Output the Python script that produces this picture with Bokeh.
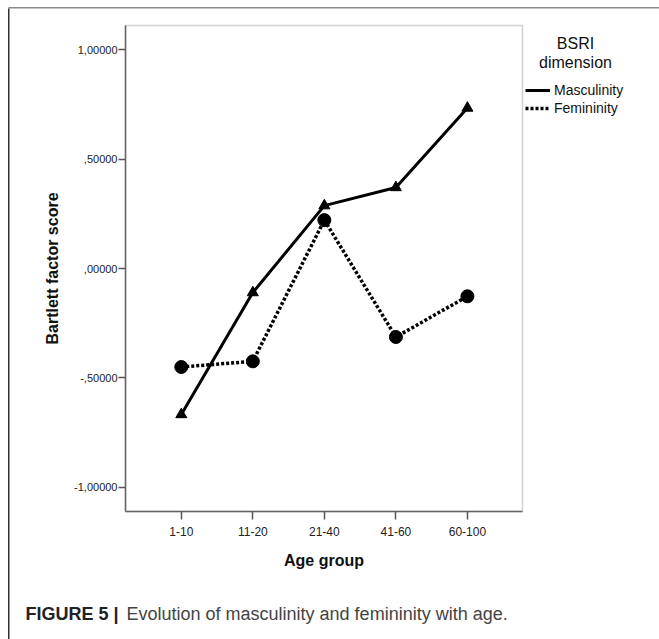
from bokeh.plotting import figure
from bokeh.models import (FixedTicker, Legend, LegendItem, Label, BoxAnnotation,
                          Range1d, LinearAxis)
from bokeh.embed import file_html
from bokeh.resources import INLINE

# ---- data ----
age_groups = ["1-10", "11-20", "21-40", "41-60", "60-100"]
masculinity = [-0.667, -0.11, 0.287, 0.37, 0.733]
femininity = [-0.45, -0.424, 0.221, -0.313, -0.127]
y_ticks = [-1.0, -0.5, 0.0, 0.5, 1.0]
y_tick_labels = ["-1,00000", "-,50000", ",00000", ",50000", "1,00000"]
series_names = ["Masculinity", "Femininity"]
legend_title = ["BSRI", "dimension"]
caption_bold = "FIGURE 5 |"
caption_text = "Evolution of masculinity and femininity with age."

x_pos = list(range(len(age_groups)))

FONT = "Liberation Sans"
W, H = 659, 639
# inner plotting area (pixels from the top-left of the canvas)
FL, FR, FT, FB = 125, 522, 25, 511
X0, X1 = -0.78, 4.77      # data extent of inner area
Y0, Y1 = -1.11, 1.11
sx = (FR - FL) / (X1 - X0)
sy = (FB - FT) / (Y1 - Y0)

p = figure(width=W, height=H, min_border=0,
           x_range=Range1d(X0 - FL / sx, X1 + (W - FR) / sx),
           y_range=Range1d(Y0 - (H - FB) / sy, Y1 + FT / sy),
           x_axis_location=None, y_axis_location=None,
           output_backend="svg", toolbar_location=None)

p.grid.visible = False
p.background_fill_color = "white"
p.border_fill_color = "white"
p.outline_line_color = None

# inner frame box
p.add_layout(BoxAnnotation(left=X0, right=X1, bottom=Y0, top=Y1,
                           fill_alpha=0, line_color="#666666", line_width=1.5))

# axes fixed at the inner frame edges
xa = LinearAxis(fixed_location=Y0, bounds=(X0, X1))
xa.ticker = FixedTicker(ticks=x_pos)
xa.major_label_overrides = {i: lab for i, lab in zip(x_pos, age_groups)}
xa.axis_label = "Age group"
ya = LinearAxis(fixed_location=X0, bounds=(Y0, Y1))
ya.ticker = FixedTicker(ticks=y_ticks)
ya.major_label_overrides = {t: lab for t, lab in zip(y_ticks, y_tick_labels)}
ya.axis_label = "Bartlett factor score"

for ax in (xa, ya):
    ax.minor_tick_line_color = None
    ax.major_tick_in = 0
    ax.axis_line_color = "#666666"
    ax.axis_line_width = 1.5
    ax.major_tick_line_color = "#555555"
    ax.major_tick_line_width = 1.5
    ax.major_label_text_font = FONT
    ax.major_label_text_color = "#222222"
    ax.axis_label_text_font = FONT
    ax.axis_label_text_font_style = "bold"
    ax.axis_label_text_font_size = "16px"
    ax.axis_label_text_color = "#111111"

xa.major_tick_out = 8
xa.major_label_text_font_size = "12px"
xa.major_label_standoff = 7
xa.axis_label_standoff = 13
ya.major_tick_out = 7
ya.major_label_text_font_size = "11px"
ya.major_label_standoff = 1
ya.axis_label_standoff = 10
p.add_layout(xa, "below")
p.add_layout(ya, "left")

# series
m_line = p.line(x_pos, masculinity, line_color="black", line_width=3)
p.scatter(x_pos, masculinity, marker="triangle", size=11, color="black")
f_line = p.line(x_pos, femininity, line_color="black", line_width=3.5, line_dash="3 2")
p.scatter(x_pos, femininity, marker="circle", size=13, color="black")

legend = Legend(items=[LegendItem(label=series_names[0], renderers=[m_line]),
                       LegendItem(label=series_names[1], renderers=[f_line])],
                location=(525, H - 116), padding=0, margin=0, spacing=2,
                glyph_width=25, glyph_height=16, label_height=16,
                label_standoff=4, border_line_color=None,
                background_fill_alpha=0,
                label_text_font=FONT, label_text_font_size="14px",
                label_text_color="#111111")
p.add_layout(legend)

for txt, yy in zip(legend_title, [43, 62]):
    p.add_layout(Label(x=575, y=H - yy, x_units="screen", y_units="screen", text=txt,
                       text_align="center", text_baseline="middle",
                       text_font=FONT, text_font_size="16px", text_color="#111111"))

# caption
p.add_layout(Label(x=25, y=H - 613, x_units="screen", y_units="screen", text=caption_bold,
                   text_align="left", text_baseline="middle", text_font=FONT,
                   text_font_style="bold", text_font_size="18px", text_color="#222222"))
p.add_layout(Label(x=126, y=H - 613, x_units="screen", y_units="screen", text=caption_text,
                   text_align="left", text_baseline="middle", text_font=FONT,
                   text_font_size="18px", text_color="#444444"))

# figure border (top and left)
p.add_layout(BoxAnnotation(left=8, right=W, top=H - 6.5, bottom=H - 8,
                           left_units="screen", right_units="screen",
                           top_units="screen", bottom_units="screen",
                           fill_color="#888888", fill_alpha=1, line_color=None))
p.add_layout(BoxAnnotation(left=7.5, right=9, top=H - 8, bottom=0,
                           left_units="screen", right_units="screen",
                           top_units="screen", bottom_units="screen",
                           fill_color="#333333", fill_alpha=1, line_color=None))

open("out.html", "w").write(file_html(p, INLINE))
